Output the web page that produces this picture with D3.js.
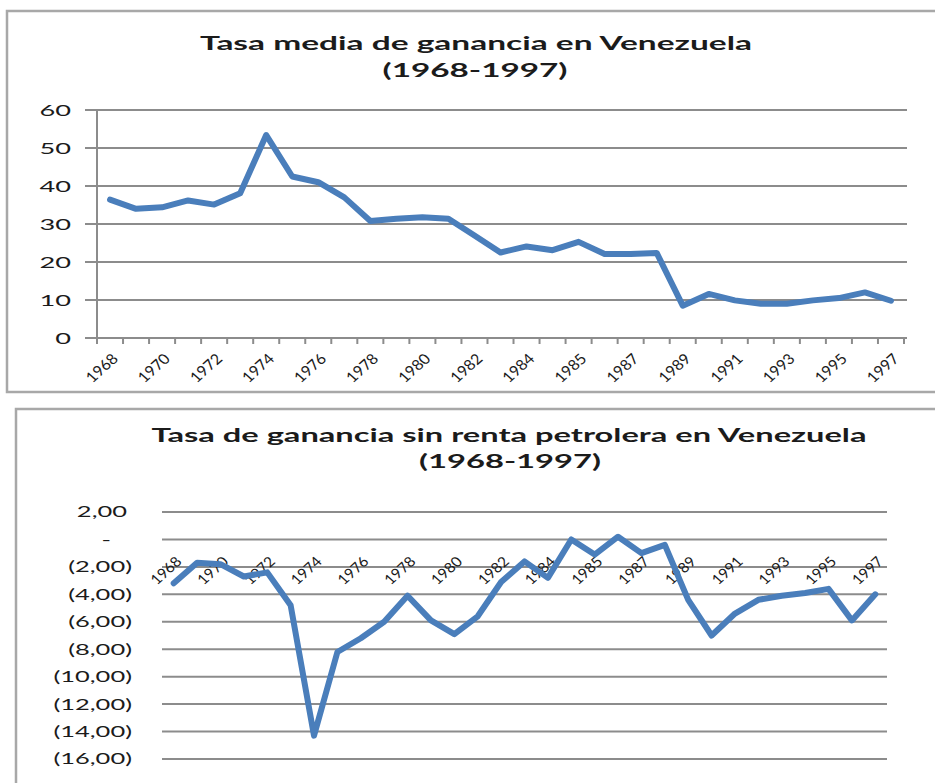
<!DOCTYPE html>
<html>
<head>
<meta charset="utf-8">
<script src="https://cdn.jsdelivr.net/npm/d3@7"></script>
<style>
  body { margin: 0; background: #fff; }
  svg { display: block; }
  text { font-family: Lato, "Open Sans", sans-serif; fill: #1b1b1b; }
</style>
</head>
<body>
<svg id="chart" width="935" height="783"></svg>
<script>
// categories (the source sheet repeats one year before 1985)
const years = ["1968","1969","1970","1971","1972","1973","1974","1975","1976","1977",
  "1978","1979","1980","1981","1982","1983","1984","1984","1985","1986","1987","1988",
  "1989","1990","1991","1992","1993","1994","1995","1996","1997"];

const tasaMedia = [36.4, 34.0, 34.4, 36.2, 35.1, 38.1, 53.4, 42.5, 41.0, 37.0, 30.8,
  31.4, 31.8, 31.4, 27.0, 22.5, 24.1, 23.1, 25.3, 22.1, 22.1, 22.4, 8.5, 11.6, 9.9,
  9.0, 9.0, 9.9, 10.5, 12.0, 9.8];

const tasaSinRenta = [-3.2, -1.7, -1.8, -2.7, -2.4, -4.8, -14.3, -8.2, -7.2, -6.0, -4.1,
  -5.9, -6.9, -5.6, -3.1, -1.6, -2.8, 0.0, -1.1, 0.2, -1.0, -0.4, -4.4, -7.0, -5.4,
  -4.4, -4.1, -3.9, -3.6, -5.9, -4.0];

const mediaTicks = [0, 10, 20, 30, 40, 50, 60];
const sinRentaTicks = [2, 0, -2, -4, -6, -8, -10, -12, -14, -16];

const title1 = "Tasa media de ganancia en Venezuela";
const title2 = "Tasa de ganancia sin renta petrolera en Venezuela";
const subtitle = "(1968-1997)";

const lineColor = "#4a7ebb";
const gridColor = "#8c8c8c";
const frameColor = "#a8a8a8";
const sx = 1.7;     // the picture is wider than it is tall, text too
const sxRot = 1.12;

const svg = d3.select("#chart");

function fmtSinRenta(v) {
  if (v === 0) return "-";
  const s = Math.abs(v).toFixed(2).replace(".", ",");
  return v < 0 ? "(" + s + ")" : s;
}

function title(text, cx, y, width) {
  svg.append("text")
    .attr("x", cx).attr("y", y)
    .attr("text-anchor", "middle")
    .attr("font-size", 18).attr("font-weight", "bold")
    .attr("textLength", width).attr("lengthAdjust", "spacingAndGlyphs")
    .text(text);
}

// ---------- top chart ----------
svg.append("rect").attr("x", 7).attr("y", 11).attr("width", 940).attr("height", 381)
  .attr("fill", "none").attr("stroke", frameColor).attr("stroke-width", 2.5);

title(title1, 476, 50, 552);
title(subtitle, 475, 77, 185);

const x1 = d3.scaleBand().domain(d3.range(years.length)).range([97, 904]);
const y1 = d3.scaleLinear().domain([0, 60]).range([338, 110]);

const g1 = svg.append("g");
g1.selectAll("line.grid").data(mediaTicks).join("line")
  .attr("x1", 85).attr("x2", 907)
  .attr("y1", d => y1(d)).attr("y2", d => y1(d))
  .attr("stroke", gridColor).attr("stroke-width", 2);

g1.append("line").attr("x1", 97).attr("x2", 97)
  .attr("y1", y1(60)).attr("y2", y1(0))
  .attr("stroke", gridColor).attr("stroke-width", 2);

const bounds1 = d3.range(years.length).map(i => x1(i)).concat([x1.range()[1]]);
g1.selectAll("line.tick").data(bounds1).join("line")
  .attr("x1", d => d).attr("x2", d => d)
  .attr("y1", y1(0)).attr("y2", y1(0) + 6)
  .attr("stroke", gridColor).attr("stroke-width", 2);

g1.selectAll("g.ylab").data(mediaTicks).join("g")
  .attr("transform", d => `translate(71,${y1(d)}) scale(${sx},1)`)
  .append("text").attr("text-anchor", "end").attr("dy", "0.36em")
  .attr("font-size", 16).text(d => d);

g1.selectAll("g.xlab").data(years.filter((d, i) => i % 2 === 0)).join("g")
  .attr("transform", (d, k) => `translate(${x1(k * 2) + x1.bandwidth() / 2 + 5},356) scale(${sxRot},1) rotate(-45)`)
  .append("text").attr("text-anchor", "end").attr("dy", "0.36em")
  .attr("font-size", 14.5).text(d => d);

const line1 = d3.line()
  .x((d, i) => x1(i) + x1.bandwidth() / 2)
  .y(d => y1(d));
g1.append("path").datum(tasaMedia)
  .attr("d", line1).attr("fill", "none")
  .attr("stroke", lineColor).attr("stroke-width", 6)
  .attr("stroke-linejoin", "round").attr("stroke-linecap", "round");

// ---------- bottom chart ----------
svg.append("rect").attr("x", 16).attr("y", 409).attr("width", 930).attr("height", 390)
  .attr("fill", "none").attr("stroke", frameColor).attr("stroke-width", 2.5);

title(title2, 509, 442, 715);
title(subtitle, 510, 468, 182);

const x2 = d3.scaleBand().domain(d3.range(years.length)).range([162, 887]);
const y2 = d3.scaleLinear().domain([-16, 2]).range([759, 512]);

const g2 = svg.append("g");
g2.selectAll("line.grid").data(sinRentaTicks).join("line")
  .attr("x1", 162).attr("x2", 887)
  .attr("y1", d => y2(d)).attr("y2", d => y2(d))
  .attr("stroke", gridColor).attr("stroke-width", 2);

// accounting format: numbers line up on the digit, not on the bracket
g2.selectAll("g.ylab").data(sinRentaTicks).join("g")
  .attr("transform", d => {
    const right = d < 0 ? 132 : d === 0 ? 111 : 127;
    return `translate(${right},${y2(d)}) scale(${sx},1)`;
  })
  .append("text").attr("text-anchor", "end").attr("dy", "0.36em")
  .attr("font-size", 15).text(fmtSinRenta);

g2.selectAll("g.xlab").data(years.filter((d, i) => i % 2 === 0)).join("g")
  .attr("transform", (d, k) => `translate(${x2(k * 2) + x2.bandwidth() / 2 + 5},559) scale(${sxRot},1) rotate(-45)`)
  .append("text").attr("text-anchor", "end").attr("dy", "0.36em")
  .attr("font-size", 14).text(d => d);

const line2 = d3.line()
  .x((d, i) => x2(i) + x2.bandwidth() / 2)
  .y(d => y2(d));
g2.append("path").datum(tasaSinRenta)
  .attr("d", line2).attr("fill", "none")
  .attr("stroke", lineColor).attr("stroke-width", 6)
  .attr("stroke-linejoin", "round").attr("stroke-linecap", "round");
</script>
</body>
</html>
